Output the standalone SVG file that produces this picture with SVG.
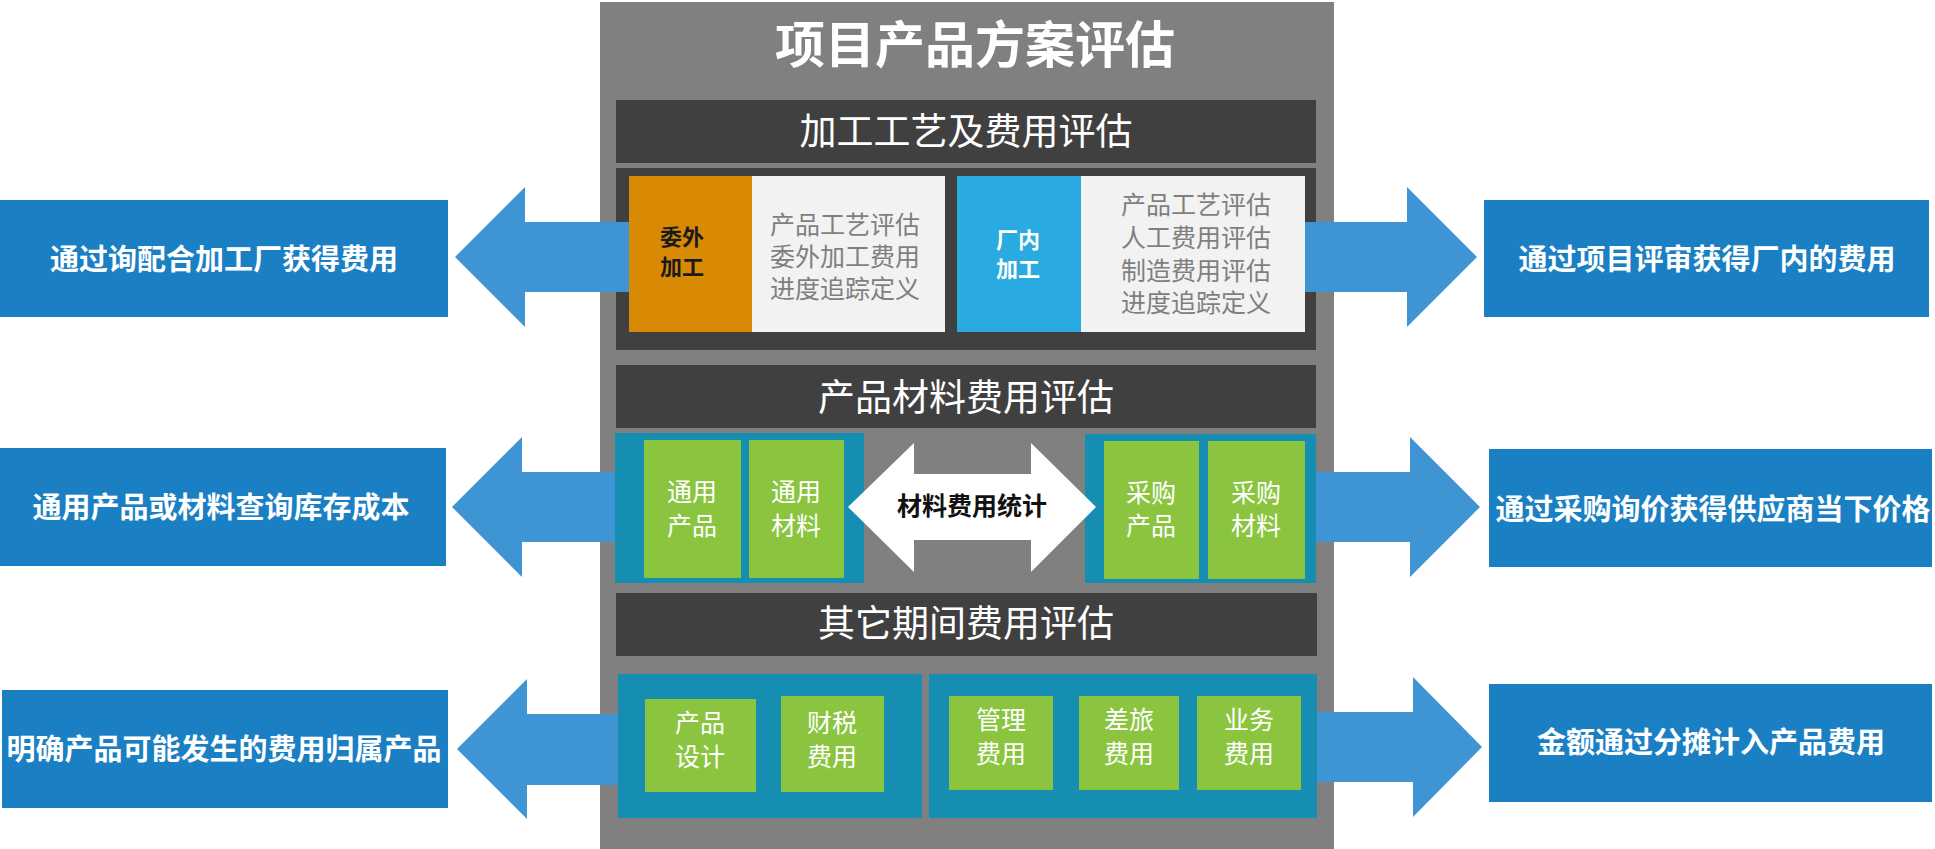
<svg xmlns="http://www.w3.org/2000/svg" width="1935" height="849" viewBox="0 0 1935 849">
<style>
text{font-family:"Liberation Sans","Noto Sans CJK SC",sans-serif;}
.panel{fill:#808080;}
.dark{fill:#404040;}
.side{fill:#1B7FC4;}
.arrow{fill:#3F94D4;}
.teal{fill:#168EB2;}
.green{fill:#8BC540;}
.light{fill:#F2F2F2;}
.title{fill:#fff;font-size:50px;font-weight:bold;text-anchor:middle;}
.head{fill:#fff;font-size:37px;text-anchor:middle;}
.sidet{fill:#fff;font-size:29px;font-weight:bold;text-anchor:middle;}
.gt{fill:#fff;font-size:25px;text-anchor:middle;}
.lt{fill:#7F7F7F;font-size:25px;}
.bt{font-size:22px;font-weight:bold;text-anchor:middle;}
</style>
<rect width="1935" height="849" fill="#fff"/>
<g id="panel">
<rect class="panel" x="600" y="2" width="734" height="847"/>
<text class="title" x="975" y="63">项目产品方案评估</text>
</g>
<g id="sec1-header">
<rect class="dark" x="616" y="100" width="700" height="63"/>
<text class="head" x="966" y="145">加工工艺及费用评估</text>
</g>
<g id="sec1-body"><rect class="dark" x="616" y="168" width="700" height="182"/></g>
<g id="sec2-header">
<rect class="dark" x="616" y="365" width="700" height="63"/>
<text class="head" x="966" y="411">产品材料费用评估</text>
</g>
<g id="sec3-header">
<rect class="dark" x="616" y="593" width="701" height="63"/>
<text class="head" x="966" y="637">其它期间费用评估</text>
</g>
<g id="connectors">
<polygon class="arrow" points="455,257 525,187 525,222 632,222 632,292 525,292 525,327"/>
<polygon class="arrow" points="1477,257 1407,187 1407,222 1300,222 1300,292 1407,292 1407,327"/>
<polygon class="arrow" points="452,507 522,437 522,472 618,472 618,542 522,542 522,577"/>
<polygon class="arrow" points="1480,507 1410,437 1410,472 1312,472 1312,542 1410,542 1410,577"/>
<polygon class="arrow" points="457,749 527,679 527,714 622,714 622,785 527,785 527,819"/>
<polygon class="arrow" points="1482,747 1413,677 1413,712 1312,712 1312,782 1413,782 1413,817"/>
</g>
<g id="node-left1">
<rect class="side" x="0" y="200" width="448" height="117"/>
<text class="sidet" x="224" y="270">通过询配合加工厂获得费用</text>
</g>
<g id="node-right1">
<rect class="side" x="1484" y="200" width="445" height="117"/>
<text class="sidet" x="1707" y="270">通过项目评审获得厂内的费用</text>
</g>
<g id="node-left2">
<rect class="side" x="0" y="448" width="446" height="118"/>
<text class="sidet" x="221" y="518">通用产品或材料查询库存成本</text>
</g>
<g id="node-right2">
<rect class="side" x="1489" y="449" width="443" height="118"/>
<text class="sidet" x="1713" y="520">通过采购询价获得供应商当下价格</text>
</g>
<g id="node-left3">
<rect class="side" x="2" y="690" width="446" height="118"/>
<text class="sidet" x="224" y="760">明确产品可能发生的费用归属产品</text>
</g>
<g id="node-right3">
<rect class="side" x="1489" y="684" width="443" height="118"/>
<text class="sidet" x="1711" y="753">金额通过分摊计入产品费用</text>
</g>
<g id="node-waiwai">
<rect x="629" y="176" width="123" height="156" fill="#D88A04"/>
<text class="bt" x="682" y="245" fill="#1A1A1A">委外</text>
<text class="bt" x="682" y="275" fill="#1A1A1A">加工</text>
<rect class="light" x="752" y="176" width="193" height="156"/>
<text class="lt" x="770" y="234">产品工艺评估</text>
<text class="lt" x="770" y="266">委外加工费用</text>
<text class="lt" x="770" y="298">进度追踪定义</text>
</g>
<g id="node-changnei">
<rect x="957" y="176" width="124" height="156" fill="#29ABE2"/>
<text class="bt" x="1018" y="248" fill="#fff">厂内</text>
<text class="bt" x="1018" y="277" fill="#fff">加工</text>
<rect class="light" x="1081" y="176" width="224" height="156"/>
<text class="lt" x="1121" y="214">产品工艺评估</text>
<text class="lt" x="1121" y="247">人工费用评估</text>
<text class="lt" x="1121" y="280">制造费用评估</text>
<text class="lt" x="1121" y="312">进度追踪定义</text>
</g>
<g id="node-general">
<rect class="teal" x="615" y="433" width="249" height="150"/>
<rect class="green" x="644" y="440" width="97" height="138"/>
<text class="gt" x="692" y="501">通用</text>
<text class="gt" x="692" y="535">产品</text>
<rect class="green" x="749" y="440" width="95" height="138"/>
<text class="gt" x="796" y="501">通用</text>
<text class="gt" x="796" y="535">材料</text>
</g>
<g id="node-purchase">
<rect class="teal" x="1085" y="434" width="231" height="149"/>
<rect class="green" x="1104" y="441" width="95" height="138"/>
<text class="gt" x="1151" y="502">采购</text>
<text class="gt" x="1151" y="535">产品</text>
<rect class="green" x="1208" y="441" width="97" height="138"/>
<text class="gt" x="1256" y="502">采购</text>
<text class="gt" x="1256" y="535">材料</text>
</g>
<g id="node-stat">
<polygon fill="#fff" points="848,507 914,443 914,474 1031,474 1031,443 1096,507 1031,572 1031,540 914,540 914,572"/>
<text x="972" y="515" font-size="25" font-weight="bold" fill="#111" text-anchor="middle">材料费用统计</text>
</g>
<g id="node-other-left">
<rect class="teal" x="618" y="674" width="304" height="144"/>
<rect class="green" x="645" y="699" width="111" height="93"/>
<text class="gt" x="700" y="732">产品</text>
<text class="gt" x="700" y="766">设计</text>
<rect class="green" x="781" y="696" width="103" height="96"/>
<text class="gt" x="832" y="732">财税</text>
<text class="gt" x="832" y="766">费用</text>
</g>
<g id="node-other-right">
<rect class="teal" x="929" y="674" width="388" height="144"/>
<rect class="green" x="949" y="696" width="104" height="94"/>
<text class="gt" x="1001" y="729">管理</text>
<text class="gt" x="1001" y="763">费用</text>
<rect class="green" x="1079" y="696" width="100" height="94"/>
<text class="gt" x="1129" y="729">差旅</text>
<text class="gt" x="1129" y="763">费用</text>
<rect class="green" x="1197" y="696" width="104" height="94"/>
<text class="gt" x="1249" y="729">业务</text>
<text class="gt" x="1249" y="763">费用</text>
</g>
</svg>
